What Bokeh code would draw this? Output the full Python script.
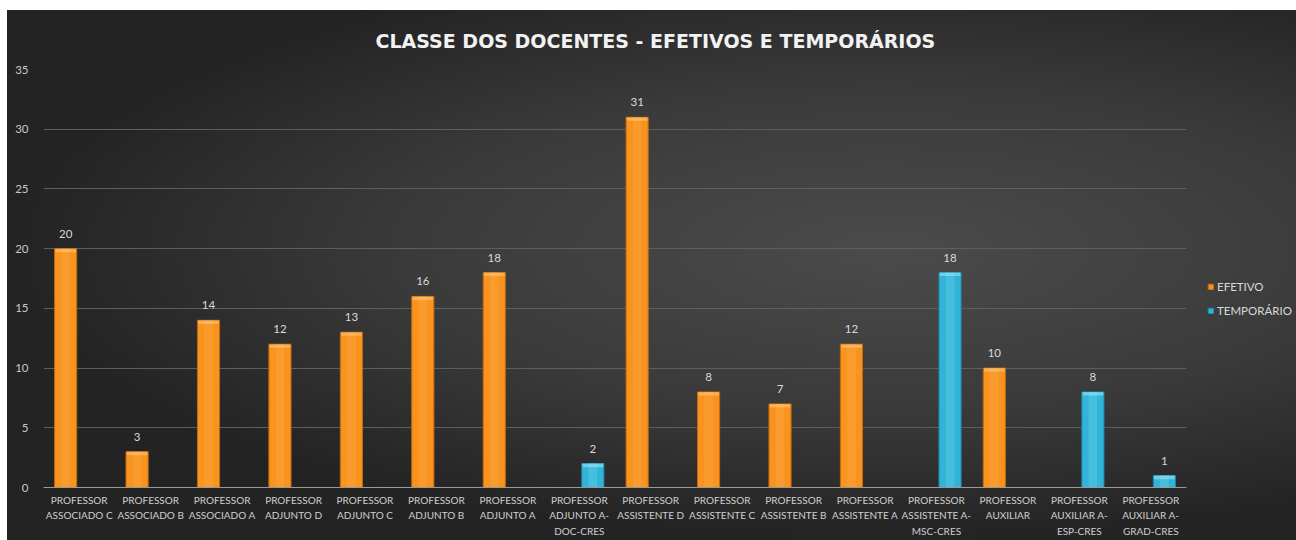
from bokeh.plotting import figure
from bokeh.models import ColumnDataSource, FactorRange, Range1d, FixedTicker, Legend, LegendItem
from bokeh.core.properties import value
from bokeh.transform import dodge
from bokeh.embed import file_html
from bokeh.resources import INLINE

categories = [
    "PROFESSOR\nASSOCIADO C", "PROFESSOR\nASSOCIADO B", "PROFESSOR\nASSOCIADO A",
    "PROFESSOR\nADJUNTO D", "PROFESSOR\nADJUNTO C", "PROFESSOR\nADJUNTO B",
    "PROFESSOR\nADJUNTO A", "PROFESSOR\nADJUNTO A-\nDOC-CRES", "PROFESSOR\nASSISTENTE D",
    "PROFESSOR\nASSISTENTE C", "PROFESSOR\nASSISTENTE B", "PROFESSOR\nASSISTENTE A",
    "PROFESSOR\nASSISTENTE A-\nMSC-CRES", "PROFESSOR\nAUXILIAR", "PROFESSOR\nAUXILIAR A-\nESP-CRES",
    "PROFESSOR\nAUXILIAR A-\nGRAD-CRES",
]
efetivo = [20, 3, 14, 12, 13, 16, 18, None, 31, 8, 7, 12, None, 10, None, None]
temporario = [None, None, None, None, None, None, None, 2, None, None, None, None, 18, None, 8, 1]
y_ticks = [0, 5, 10, 15, 20, 25, 30, 35]


def make_source(vals):
    keep = [(c, v) for c, v in zip(categories, vals) if v is not None]
    return ColumnDataSource(dict(
        cat=[c for c, _ in keep],
        val=[v for _, v in keep],
        cap=[v - 0.3 for _, v in keep],
        lab=[str(v) for _, v in keep],
    ))


ef_src = make_source(efetivo)
tp_src = make_source(temporario)

p = figure(
    x_range=FactorRange(*categories, range_padding=0),
    y_range=Range1d(0, 35),
    frame_width=1143, frame_height=418,
    output_backend="svg", toolbar_location=None,
    min_border_left=36, min_border_right=110, min_border_top=58, min_border_bottom=54,
)
p.styles = {
    "background": "radial-gradient(ellipse farthest-side at 50% 45%, #4b4b4b 0%, #3a3a3a 55%, #232323 100%)",
    "margin-left": "7px",
    "margin-top": "10px",
}
p.background_fill_alpha = 0
p.border_fill_alpha = 0
p.outline_line_color = None

lab_font = "Lato"

renderers = []
for src, off, main, edge, hi, cap in (
    (ef_src, -0.19, "#f7931e", "#c4680c", "#ffb04a", "#ffc880"),
    (tp_src, 0.19, "#31b4d8", "#1d86a6", "#6fd3ee", "#a0e8fa"),
):
    xs = dodge("cat", off, range=p.x_range)
    r = p.vbar(x=xs, top="val", width=0.31, source=src,
               fill_color=main, line_color=edge, line_width=1)
    renderers.append(r)
    p.vbar(x=xs, top="val", width=0.12, source=src,
           fill_color=hi, fill_alpha=0.35, line_color=None)
    p.vbar(x=xs, top="val", bottom="cap", width=0.29, source=src,
           fill_color=cap, fill_alpha=0.55, line_color=None)
    p.text(x=xs, y="val", text="lab", source=src,
           text_align="center", text_baseline="bottom", y_offset=-11,
           text_color="#d9d9d9", text_font_size="11.5px", text_font=value(lab_font))

p.title.text = "CLASSE  DOS DOCENTES  - EFETIVOS  E TEMPORÁRIOS"
p.title.align = "left"
p.title.offset = 332
p.title.standoff = 35
p.title.text_font = "DejaVu Sans"
p.title.text_font_style = "bold"
p.title.text_font_size = "19px"
p.title.text_color = "#f2f2f2"

p.yaxis.ticker = FixedTicker(ticks=y_ticks)
p.yaxis.axis_line_color = None
p.yaxis.major_tick_line_color = None
p.yaxis.minor_tick_line_color = None
p.yaxis.major_label_standoff = 9
p.yaxis.major_label_text_color = "#c8c8c8"
p.yaxis.major_label_text_font = lab_font
p.yaxis.major_label_text_font_size = "11.5px"

p.xaxis.axis_line_color = "#9a9a9a"
p.xaxis.major_tick_line_color = None
p.xaxis.minor_tick_line_color = None
p.xaxis.major_label_standoff = 0
p.xaxis.major_label_text_color = "#d0d0d0"
p.xaxis.major_label_text_font = lab_font
p.xaxis.major_label_text_font_size = "10px"
p.xaxis.major_label_text_line_height = 1.3

p.xgrid.grid_line_color = None
p.ygrid.ticker = FixedTicker(ticks=y_ticks)
p.ygrid.grid_line_color = "#5e5e5e"
p.ygrid.grid_line_width = 1

legend = Legend(items=[LegendItem(label="EFETIVO", renderers=[renderers[0]]),
                       LegendItem(label="TEMPORÁRIO", renderers=[renderers[1]])],
                location=(21, 170))
legend.background_fill_alpha = 0
legend.border_line_color = None
legend.label_text_color = "#d9d9d9"
legend.label_text_font = lab_font
legend.label_text_font_size = "11.5px"
legend.glyph_width = 7
legend.glyph_height = 7
legend.label_standoff = 3
legend.spacing = 11
legend.label_height = 12
legend.padding = 0
legend.margin = 0
p.add_layout(legend, "right")

open("out.html", "w").write(file_html(p, INLINE))
